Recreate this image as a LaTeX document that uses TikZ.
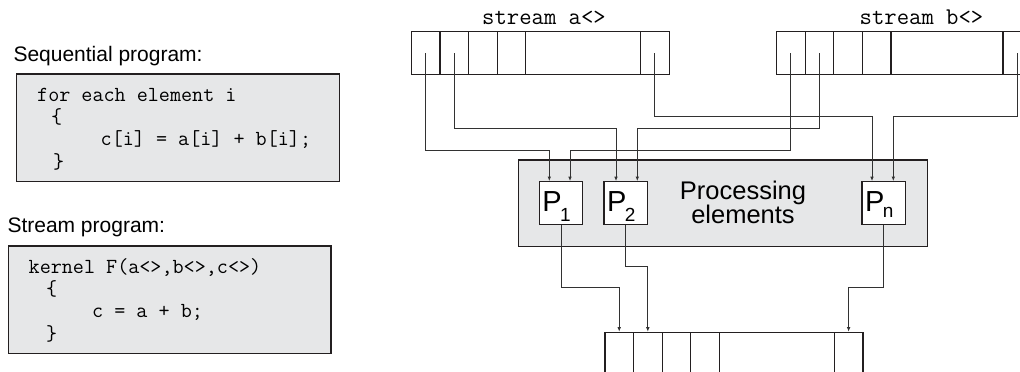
\documentclass[tikz,border=0pt]{standalone}
\usepackage{fontspec}
\setmainfont{Liberation Sans}
\usetikzlibrary{arrows.meta}
\definecolor{panel}{RGB}{230,231,232}
\definecolor{edge}{RGB}{35,31,32}
\definecolor{wirec}{RGB}{50,50,50}
\tikzset{
  cell/.style={draw=edge, line width=1.2pt, minimum height=43, minimum width=#1,
               inner sep=0pt, anchor=north west},
  cell/.default=28.6,
  panelbox/.style={draw=edge, fill=panel, line width=1.2pt, inner sep=0pt},
  pebox/.style={draw=edge, fill=white, line width=1.2pt, inner sep=0pt,
                minimum height=42.6, text height=25pt, text depth=7.6pt,
                font=\fontsize{29}{29}\selectfont},
  wire/.style={draw=wirec, line width=0.85pt, -{Latex[length=4.5pt,width=3.6pt]}},
  codeline/.style={anchor=base west, inner sep=0pt, font=\ttfamily\fontsize{21.5}{24}\selectfont},
  heading/.style={anchor=base west, inner sep=0pt, font=\fontsize{21}{25}\selectfont},
  streamlabel/.style={anchor=base, inner sep=0pt, font=\ttfamily\fontsize{24}{26}\selectfont},
}
\newcommand{\pelabel}[2]{\makebox[43.4pt][l]{\hspace*{3pt}P\kern-1.5pt\raisebox{#2}{\fontsize{19}{19}\selectfont #1}}}
\begin{document}
\begin{tikzpicture}[x=1pt,y=-1pt]
\clip (0,0) rectangle (1020,372);

% ---- program listings ----
\node[heading] (seqtitle) at (13.3,61.7) {Sequential program:};
\node[panelbox, minimum width=322.6, minimum height=107.7] (seqbox) at (178,127.85) {};
\node[codeline] (s1) at (37,101) {for each element i};
\node[codeline] (s2) at (51,123.3) {\{};
\node[codeline] (s3) at (100.5,145.6) {c[i] = a[i] + b[i];};
\node[codeline] (s4) at (53,168) {\}};

\node[heading] (strtitle) at (7.3,232.3) {Stream program:};
\node[panelbox, minimum width=322.7, minimum height=107.3] (strbox) at (169.65,299.65) {};
\node[codeline] (k1) at (28.5,273.3) {kernel F(a<>,b<>,c<>)};
\node[codeline] (k2) at (46,295.6) {\{};
\node[codeline] (k3) at (92,317.9) {c = a + b;};
\node[codeline] (k4) at (46,340.2) {\}};

% ---- input stream a ----
\node[streamlabel] (alabel) at (544,24) {stream a<>};
\node[cell] (a1) at (410.7,31) {};
\node[cell] (a2) at (439.3,31) {};
\node[cell] (a3) at (467.9,31) {};
\node[cell] (a4) at (496.5,31) {};
\node[cell=114.9] (aw) at (525.1,31) {};
\node[cell] (a5) at (640,31) {};

% ---- input stream b ----
\node[streamlabel] (blabel) at (921.5,24) {stream b<>};
\node[cell] (b1) at (776,31) {};
\node[cell] (b2) at (804.6,31) {};
\node[cell] (b3) at (833.2,31) {};
\node[cell] (b4) at (861.8,31) {};
\node[cell=111.9] (bw) at (890.4,31) {};
\node[cell] (b5) at (1002.3,31) {};

% ---- processing elements ----
\node[panelbox, minimum width=409, minimum height=86.7] (PE) at (722.8,203.35) {};
\node[inner sep=0pt, align=center, font=\fontsize{25.5}{24.7}\selectfont] (PEtext) at (743,202.3) {Processing\\elements};
\node[pebox] (P1) at (561,203) {\pelabel{1}{-10pt}};
\node[pebox] (P2) at (625.7,203) {\pelabel{2}{-10pt}};
\node[pebox] (Pn) at (883.7,203) {\pelabel{n}{-6pt}};

% ---- output stream ----
\node[cell=28.6, minimum height=60] (o1) at (604.3,331.7) {};
\node[cell=28.6, minimum height=60] (o2) at (632.9,331.7) {};
\node[cell=28.6, minimum height=60] (o3) at (661.5,331.7) {};
\node[cell=28.6, minimum height=60] (o4) at (690.1,331.7) {};
\node[cell=115, minimum height=60] (ow) at (718.7,331.7) {};
\node[cell=28.6, minimum height=60] (o5) at (833.7,331.7) {};

% routing levels and input points
\coordinate (lev1) at (0,150);
\coordinate (lev2) at (0,128.3);
\coordinate (lev3a) at (0,116);
\coordinate (lev3b) at (0,116.7);
\coordinate (out1) at (0,287.3);
\coordinate (out2) at (0,266.7);
\coordinate (p1i1) at ([xshift=-11.7pt]P1.north);
\coordinate (p1i2) at ([xshift=9pt]P1.north);
\coordinate (p2i1) at ([xshift=-9.7pt]P2.north);
\coordinate (p2i2) at ([xshift=11.6pt]P2.north);
\coordinate (pni1) at ([xshift=-11.7pt]Pn.north);
\coordinate (pni2) at ([xshift=9.6pt]Pn.north);

% ---- connectors: streams into processors ----
\draw[wire] (a1.center) -- (a1.center |- lev1) -| (p1i1);
\draw[wire] (b1.center) -- (b1.center |- lev1) -| (p1i2);
\draw[wire] (a2.center) -- (a2.center |- lev2) -| (p2i1);
\draw[wire] (b2.center) -- (b2.center |- lev2) -| (p2i2);
\draw[wire] (a5.center) -- (a5.center |- lev3a) -| (pni1);
\draw[wire] (b5.center) -- (b5.center |- lev3b) -| (pni2);

% ---- connectors: processors into output stream ----
\draw[wire] (P1.south) -- (P1.south |- out1) -| (o1.north);
\draw[wire] (P2.south) -- (P2.south |- out2) -| (o2.north);
\draw[wire] (Pn.south) -- (Pn.south |- out1) -| (o5.north);
\end{tikzpicture}
\end{document}
